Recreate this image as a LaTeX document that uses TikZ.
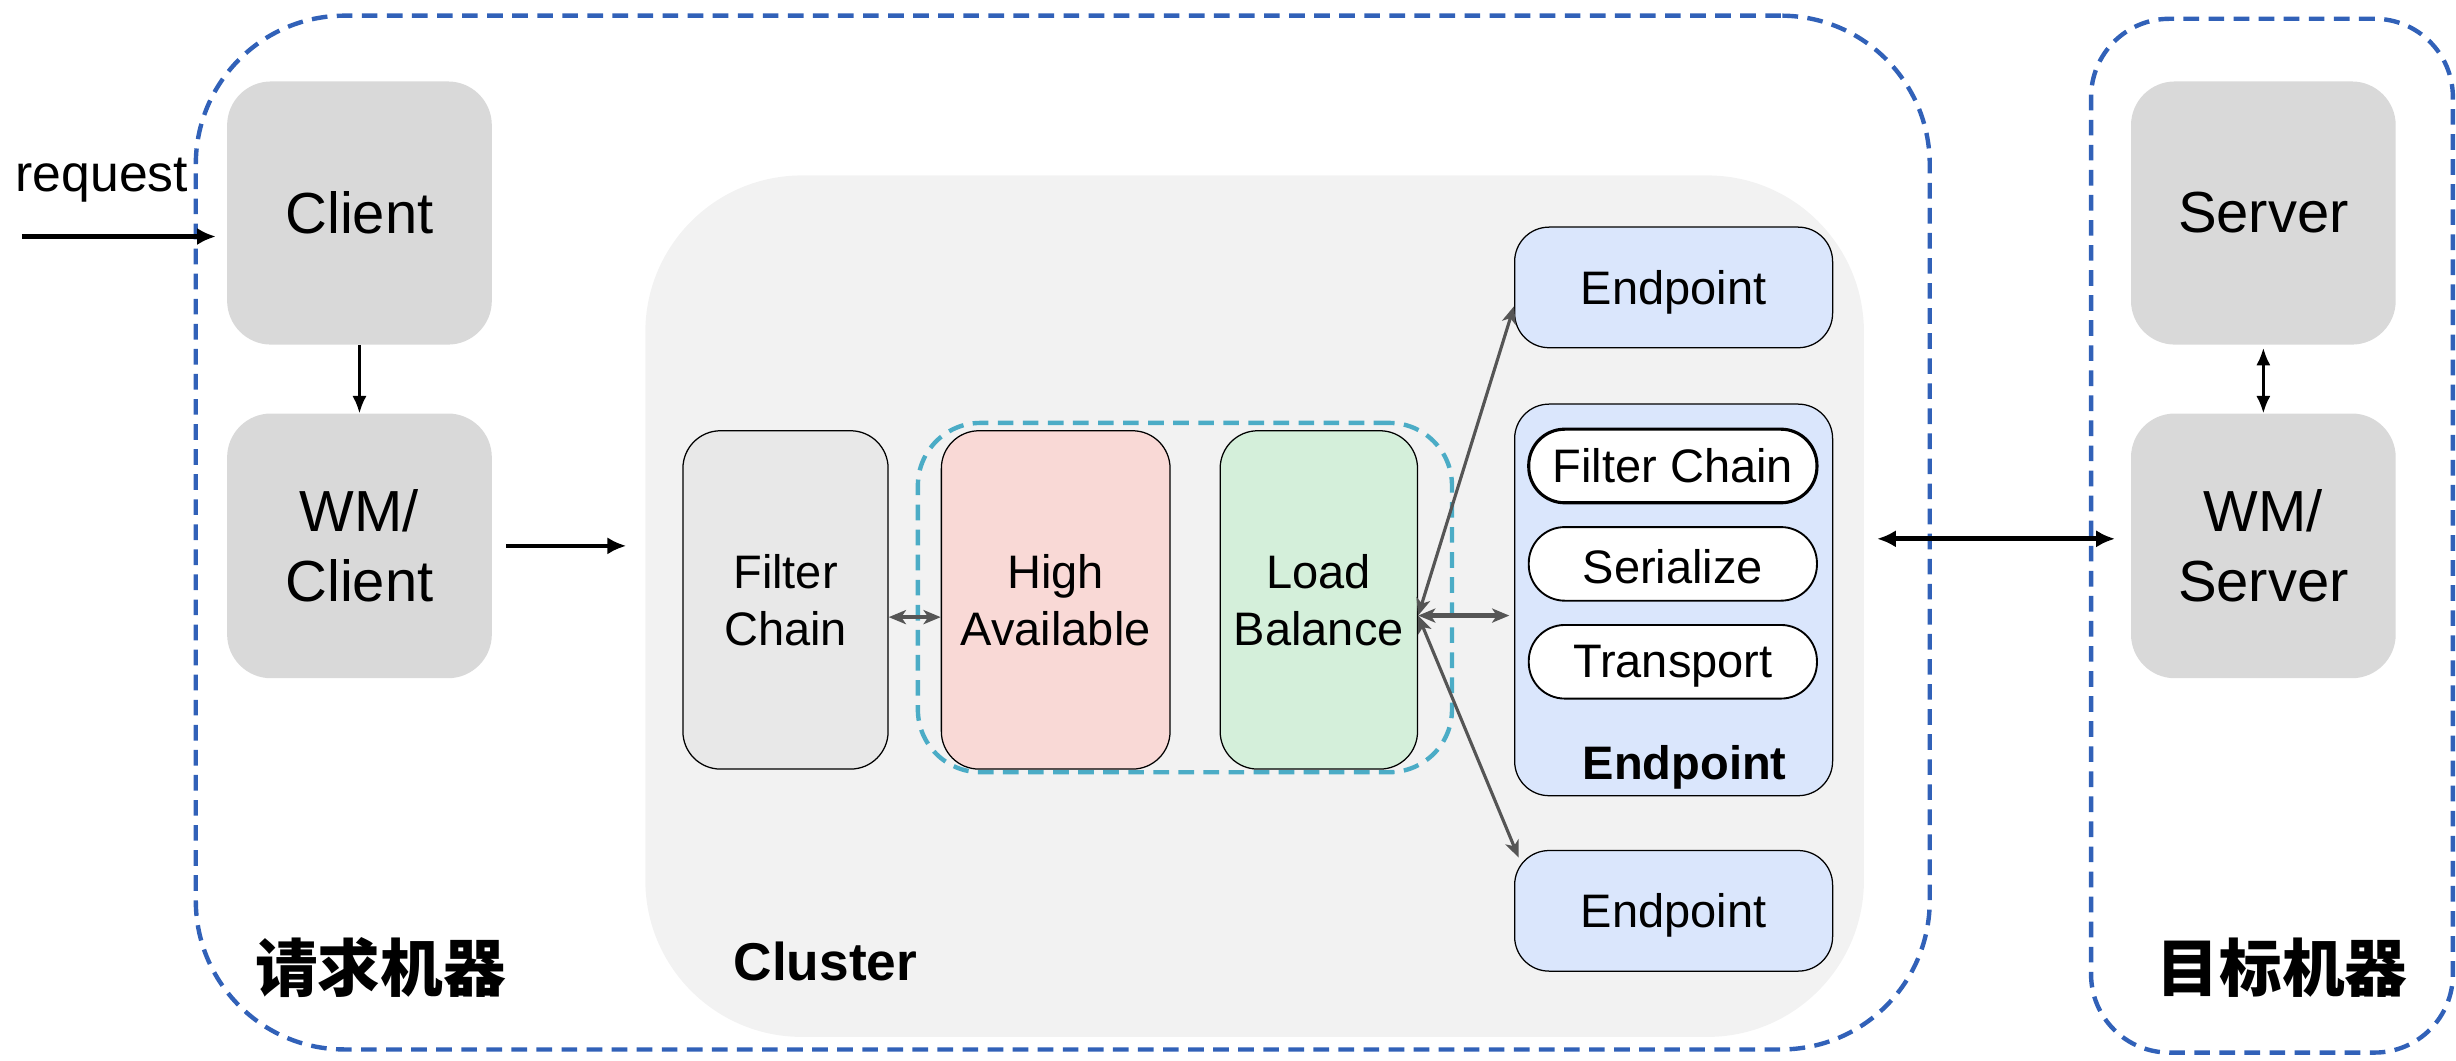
\documentclass[tikz,border=0pt]{standalone}
\usepackage{fontspec}
\setmainfont{Liberation Sans}
\newfontfamily\cjk{Noto Sans CJK SC}
\usetikzlibrary{arrows.meta,calc}
\definecolor{boxgray}{HTML}{D9D9D9}
\definecolor{clgray}{HTML}{F2F2F2}
\definecolor{fcgray}{HTML}{E8E8E8}
\definecolor{hapink}{HTML}{F9D9D6}
\definecolor{lbgreen}{HTML}{D4EFDA}
\definecolor{epblue}{HTML}{DAE6FC}
\definecolor{grpblue}{HTML}{3161B8}
\definecolor{grpteal}{HTML}{4BACC6}
\definecolor{arrgray}{HTML}{555555}
\begin{document}
\begin{tikzpicture}[x=1pt,y=-1pt,
  every node/.style={inner sep=0pt, align=center},
  gbox/.style={fill=boxgray, draw=none, rounded corners=28pt, minimum width=169pt, minimum height=168pt, font=\fontsize{37}{45}\selectfont},
  colbox/.style={draw=black, line width=0.8pt, rounded corners=24pt, minimum height=216pt, font=\fontsize{30}{36.5}\selectfont},
  epbox/.style={draw=black, line width=0.8pt, fill=epblue, rounded corners=22pt, minimum width=203pt, font=\fontsize{30}{36}\selectfont},
  pill/.style={draw=black, fill=white, rounded corners=23pt, minimum width=184pt, minimum height=47pt, font=\fontsize{30}{36}\selectfont},
  grp/.style={draw=grpblue, line width=2.8pt, dash pattern=on 10pt off 6pt},
  blackarr/.style={draw=black, line width=3pt, -{Latex[length=12pt,width=11pt]}},
  thinarr/.style={draw=black, line width=1.5pt},
  grayarr/.style={draw=arrgray, line width=2pt, {Stealth[length=11pt,width=9pt,inset=3pt]}-{Stealth[length=11pt,width=9pt,inset=3pt]}}
]
\useasboundingbox (0,0) rectangle (1568,677);
% machine groups
\node[grp, rounded corners=95pt, minimum width=1107pt, minimum height=660pt] (reqm) at (678.5,340) {};
\node[grp, rounded corners=50pt, minimum width=231pt, minimum height=660pt] (tgtm) at (1450.5,342) {};
\node[font=\cjk\bfseries\fontsize{40}{44}\selectfont] (reqlabel) at (243,618) {请求机器};
\node[font=\cjk\bfseries\fontsize{40}{44}\selectfont] (tgtlabel) at (1457,618) {目标机器};
% cluster
\node[fill=clgray, rounded corners=100pt, minimum width=778pt, minimum height=550pt] (cluster) at (801,387) {};
\node[font=\bfseries\fontsize{34}{40}\selectfont] (cllabel) at (527,614) {Cluster};
% client side
\node[gbox] (client) at (229.5,136) {Client};
\node[gbox, minimum height=169pt] (wmclient) at (229.5,348.5) {WM/\\Client};
\node[font=\fontsize{33}{38}\selectfont] (req) at (65,115) {request};
\coordinate (reqstart) at (14,151);
% server side
\node[gbox] (server) at (1445,136) {Server};
\node[gbox, minimum height=169pt] (wmserver) at (1445,348.5) {WM/\\Server};
% cluster content
\node[draw=grpteal, line width=2.8pt, dash pattern=on 10pt off 6pt, rounded corners=40pt, minimum width=341pt, minimum height=223pt] (hagrp) at (756.5,381.5) {};
\node[colbox, fill=fcgray, minimum width=131pt] (fc) at (501.5,383) {Filter\\Chain};
\node[colbox, fill=hapink, minimum width=146pt] (ha) at (674,383) {High\\Available};
\node[colbox, fill=lbgreen, minimum width=126pt] (lb) at (842,383) {Load\\Balance};
\node[epbox, minimum height=77pt, text depth=0pt] (ep1) at (1068.5,183.5) {Endpoint};
\node[epbox, minimum height=250pt] (epbig) at (1068.5,383) {};
\node[pill, line width=2pt] (fc2) at (1068,297.5) {Filter Chain};
\node[pill, line width=1.2pt, text height=25pt] (ser) at (1068,360) {Serialize};
\node[pill, line width=1.2pt, text depth=0pt] (trans) at (1068,422.5) {Transport};
\node[font=\bfseries\fontsize{30}{36}\selectfont, text depth=0pt] (eplabel) at (1075.5,487) {Endpoint};
\node[epbox, minimum height=77pt, text depth=0pt] (ep3) at (1068.5,581.5) {Endpoint};
% connectors
\draw[blackarr] (reqstart) -- ([xshift=-7pt]client.west |- reqstart);
\draw[thinarr, -{Latex[length=11pt,width=9pt]}] (client.south) -- (wmclient.north);
\draw[blackarr, shorten <=9pt, shorten >=12pt] (wmclient.east) -- (wmclient.east -| cluster.west);
\draw[grayarr, line width=3pt] ($(fc.east)+(0,11)$) -- ($(ha.west)+(0,11)$);
\coordinate (lbport) at ($(lb.east)+(0,10)$);
\draw[grayarr] (lbport) -- ($(ep1.west)+(0,12)$);
\draw[grayarr, line width=3.5pt] (lbport) -- ($(epbig.west)+(-3,10)$);
\draw[grayarr] (lbport) -- ($(ep3.north west)+(3,5)$);
\coordinate (linky) at (0,344);
\draw[draw=black, line width=3pt, {Latex[length=12pt,width=11pt]}-{Latex[length=12pt,width=11pt]}, shorten <=28pt, shorten >=10pt] (epbig.east |- linky) -- (wmserver.west |- linky);
\draw[thinarr, {Latex[length=11pt,width=9pt]}-{Latex[length=11pt,width=9pt]}, shorten <=2pt] (server.south) -- (wmserver.north);
\end{tikzpicture}
\end{document}
